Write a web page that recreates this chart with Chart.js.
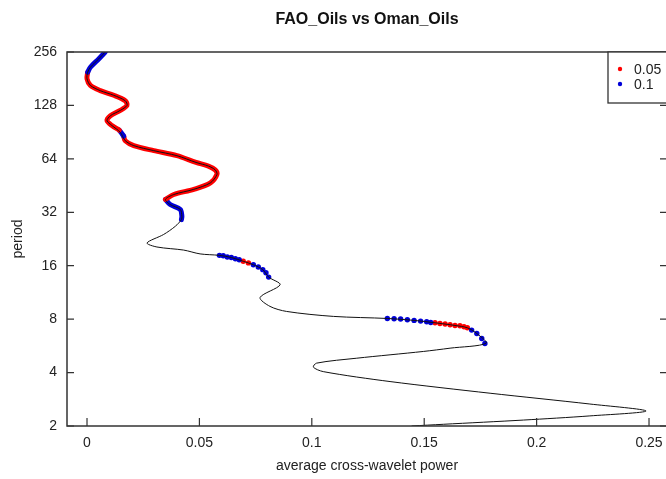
<!DOCTYPE html>
<html>
<head>
<meta charset="utf-8">
<script src="https://cdn.jsdelivr.net/npm/chart.js"></script>
<style>
  html, body { margin: 0; padding: 0; background: #fff; overflow: hidden; }
  #wrap { width: 700px; height: 479px; }
</style>
</head>
<body>
<div id="wrap"><canvas id="xwtChart" width="700" height="479"></canvas></div>
<script>
// average cross-wavelet power along period (top -> bottom)
const curvePower = [0.0081, 0.0052, 0.0015, 0.0003, 0.0000, 0.0015, 0.0059, 0.0119, 0.0170, 0.0178,
  0.0148, 0.0104, 0.0089, 0.0111, 0.0148, 0.0170, 0.0208, 0.0297, 0.0400, 0.0485,
  0.0540, 0.0570, 0.0578, 0.0549, 0.0475, 0.0386, 0.0349, 0.0370, 0.0415, 0.0422, 0.0420,
  0.0393, 0.0341, 0.0267, 0.0311, 0.0430, 0.0503, 0.0589, 0.0642, 0.0695, 0.0740,
  0.0782, 0.0808, 0.0859, 0.0770, 0.0814, 0.0888, 0.1096, 0.1336, 0.1455, 0.1548,
  0.1637, 0.1692, 0.1734, 0.1775, 0.1615, 0.1496, 0.1200, 0.1021, 0.1007, 0.1051,
  0.1348, 0.1793, 0.2237, 0.2487, 0.2237, 0.1941, 0.1585, 0.1444];
const curvePeriod = [256, 234, 210, 197, 181, 166, 155, 146, 136, 128,
  120, 112, 105, 98.6, 90.3, 81, 76, 71.2, 66.7, 61.1,
  58.3, 55.5, 52.3, 46.9, 43.1, 40.3, 37.8, 35.4, 33.2, 30.4, 29.1,
  26.7, 24.0, 21.5, 20.4, 19.6, 18.65, 18.3, 17.8, 16.95, 16.2,
  15.2, 13.8, 12.5, 10.6, 9.44, 8.84, 8.29, 8.07, 7.87, 7.63,
  7.37, 7.15, 6.64, 5.85, 5.49, 5.26, 4.82, 4.52, 4.29, 4.05,
  3.56, 3.06, 2.66, 2.43, 2.28, 2.16, 2.045, 2.0];

// significant stretches drawn as thick bands (level 0.1 = blue, 0.05 = red)
const band1Power = [0.0081, 0.0052, 0.0015, 0.0003];
const band1Period = [256, 234, 210, 197];
const band2Power = [0.0003, 0.0000, 0.0015, 0.0059, 0.0119, 0.0170, 0.0178, 0.0148, 0.0104, 0.0089, 0.0111, 0.0143];
const band2Period = [197, 181, 166, 155, 146, 136, 128, 120, 112, 105, 98.6, 93];
const band3Power = [0.0143, 0.0155, 0.0163];
const band3Period = [93, 89, 86];
const band4Power = [0.0163, 0.0170, 0.0208, 0.0297, 0.0400, 0.0485, 0.0540, 0.0570, 0.0578, 0.0549, 0.0475, 0.0386, 0.0349];
const band4Period = [86, 81, 76, 71.2, 66.7, 61.1, 58.3, 55.5, 52.3, 46.9, 43.1, 40.3, 37.8];
const band5Power = [0.0349, 0.0370, 0.0415, 0.0422, 0.0420];
const band5Period = [37.8, 35.4, 33.2, 30.4, 29.1];

// single significant points where the curve runs flat
const blueDotPower = [0.0589, 0.0606, 0.0624, 0.0642, 0.0660, 0.0677, 0.0740, 0.0762, 0.0782, 0.0796, 0.0808,
  0.1336, 0.1366, 0.1395, 0.1425, 0.1455, 0.1484, 0.1511, 0.1529, 0.1711, 0.1734, 0.1756, 0.1770];
const blueDotPeriod = [18.3, 18.2, 17.9, 17.8, 17.5, 17.3, 16.2, 15.75, 15.2, 14.6, 13.8,
  8.07, 8.04, 8.01, 7.94, 7.87, 7.80, 7.73, 7.66, 6.94, 6.64, 6.22, 5.83];
const redDotPower = [0.0695, 0.0718, 0.1548, 0.1570, 0.1593, 0.1615, 0.1637, 0.1659, 0.1677, 0.1692];
const redDotPeriod = [16.95, 16.6, 7.63, 7.56, 7.51, 7.44, 7.37, 7.34, 7.25, 7.15];

const periodTicks = [2, 4, 8, 16, 32, 64, 128, 256];
const powerTicks = [0, 0.05, 0.1, 0.15, 0.2, 0.25];
const legendLabels = ["0.05", "0.1"];

const RED = "#ff0000";
const BLUE = "#0000d8";
const FONT = "'Liberation Sans', Arial, sans-serif";

const pts = (xs, ys) => xs.map((x, i) => ({ x: x, y: ys[i] }));
const band = (xs, ys, color) => ({
  data: pts(xs, ys),
  showLine: true,
  borderColor: color,
  borderWidth: 5,
  borderCapStyle: "round",
  borderJoinStyle: "round",
  tension: 0.3,
  pointRadius: 0,
});

// inward ticks, the box and the legend, as in the R plot
const framePlugin = {
  id: "frame",
  afterDraw(chart) {
    const { ctx, chartArea: a, scales } = chart;
    ctx.save();
    ctx.strokeStyle = "#333";
    ctx.lineWidth = 1.5;
    ctx.strokeRect(a.left, a.top, a.right - a.left, a.bottom - a.top);
    ctx.lineWidth = 1.2;
    ctx.beginPath();
    powerTicks.forEach(v => {
      const x = scales.x.getPixelForValue(v);
      ctx.moveTo(x, a.bottom);
      ctx.lineTo(x, a.bottom - 8);
    });
    periodTicks.forEach(v => {
      const y = scales.y.getPixelForValue(v);
      ctx.moveTo(a.left, y);
      ctx.lineTo(a.left + 7, y);
      ctx.moveTo(a.right, y);
      ctx.lineTo(a.right - 7, y);
    });
    ctx.stroke();

    // legend box
    ctx.fillStyle = "#fff";
    ctx.fillRect(608, 52, 100, 51);
    ctx.strokeStyle = "#333";
    ctx.lineWidth = 1.3;
    ctx.strokeRect(608, 52, 100, 51);
    [RED, BLUE].forEach((c, i) => {
      const y = 69 + i * 15;
      ctx.fillStyle = c;
      ctx.beginPath();
      ctx.arc(620, y, 2.2, 0, Math.PI * 2);
      ctx.fill();
      ctx.fillStyle = "#222";
      ctx.font = "14px " + FONT;
      ctx.textAlign = "left";
      ctx.textBaseline = "middle";
      ctx.fillText(legendLabels[i], 634, y + 1);
    });

    // main title
    ctx.fillStyle = "#111";
    ctx.font = "bold 16px " + FONT;
    ctx.textAlign = "center";
    ctx.textBaseline = "middle";
    ctx.fillText("FAO_Oils vs Oman_Oils", (a.left + a.right) / 2, 20);
    ctx.restore();
  },
};

const ctx = document.getElementById("xwtChart");
const xwtChart = new Chart(ctx, {
  type: "scatter",
  data: {
    datasets: [
      {
        data: pts(curvePower, curvePeriod),
        showLine: true,
        borderColor: "#111",
        borderWidth: 1,
        tension: 0.3,
        pointRadius: 0,
      },
      band(band1Power, band1Period, BLUE),
      band(band2Power, band2Period, RED),
      band(band3Power, band3Period, BLUE),
      band(band4Power, band4Period, RED),
      band(band5Power, band5Period, BLUE),
      {
        data: pts(blueDotPower, blueDotPeriod),
        pointRadius: 2.7,
        pointBackgroundColor: BLUE,
        pointBorderWidth: 0,
      },
      {
        data: pts(redDotPower, redDotPeriod),
        pointRadius: 2.7,
        pointBackgroundColor: RED,
        pointBorderWidth: 0,
      },
    ],
  },
  options: {
    responsive: false,
    animation: false,
    events: [],
    layout: { padding: { top: 52, right: 33, left: 0, bottom: 0 } },
    plugins: {
      legend: { display: false },
      tooltip: { enabled: false },
    },
    scales: {
      x: {
        type: "linear",
        min: -0.0089,
        max: 0.258,
        afterFit: s => { s.height = 53; },
        afterBuildTicks: s => { s.ticks = powerTicks.map(v => ({ value: v })); },
        grid: { display: false, drawTicks: false },
        border: { display: false },
        ticks: {
          padding: 9,
          color: "#222",
          font: { family: FONT, size: 14 },
          callback: v => String(v),
        },
        title: {
          display: true,
          text: "average cross-wavelet power",
          color: "#222",
          font: { family: FONT, size: 14 },
          padding: { top: 0, bottom: 4 },
        },
      },
      y: {
        type: "logarithmic",
        min: 2,
        max: 256,
        afterFit: s => { s.width = 67; },
        afterBuildTicks: s => { s.ticks = periodTicks.map(v => ({ value: v })); },
        grid: { display: false, drawTicks: false },
        border: { display: false },
        ticks: {
          padding: 10,
          color: "#222",
          font: { family: FONT, size: 14 },
          callback: v => String(v),
        },
        title: {
          display: true,
          text: "period",
          color: "#222",
          font: { family: FONT, size: 14 },
          padding: { top: 10, bottom: 0 },
        },
      },
    },
  },
  plugins: [framePlugin],
});
</script>
</body>
</html>
